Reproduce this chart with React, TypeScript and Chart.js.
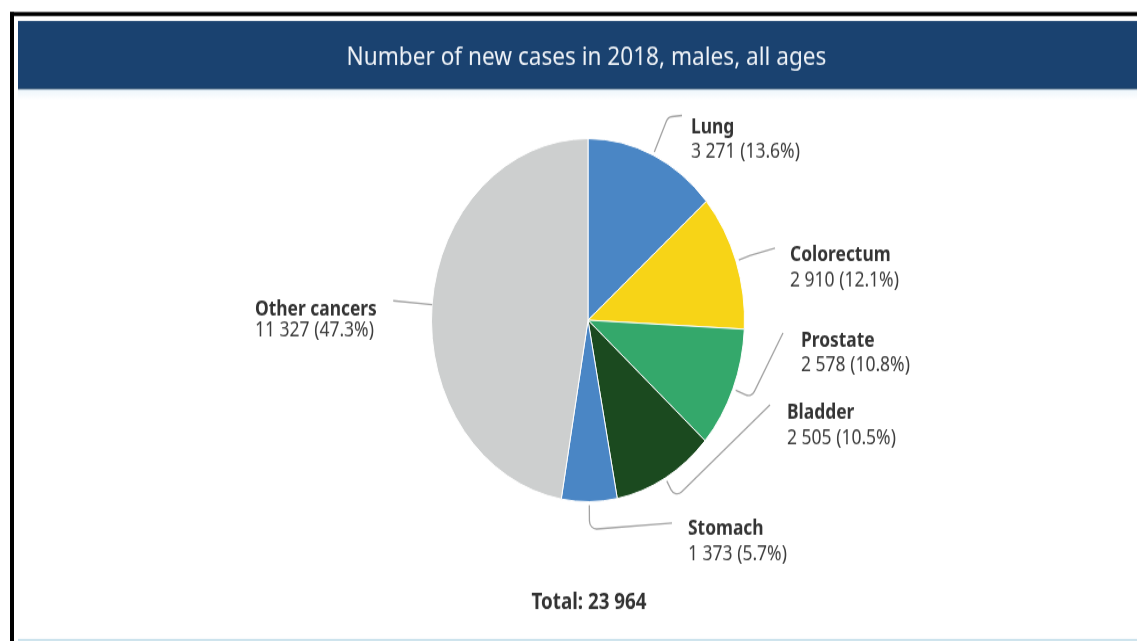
import { useEffect, useRef } from 'react';
import { Chart, registerables } from 'chart.js';

Chart.register(...registerables);

// ---------- data ----------
const chartTitle = 'Number of new cases in 2018, males, all ages';
const categories = ['Lung', 'Colorectum', 'Prostate', 'Bladder', 'Stomach', 'Other cancers'];
const newCases = [3271, 2910, 2578, 2505, 1373, 11327];
const sliceColors = ['#4a86c5', '#f7d417', '#34a86b', '#1b4a1f', '#4a86c5', '#cdcfcf'];
const totalPrefix = 'Total: ';

// ---------- layout (unscaled canvas coordinates) ----------
const W = 1137;
const SY = 1.16; // the reference is stretched vertically
const H = Math.round(641 / SY);

type LabelLayout = { startGap: number; knee: number; end: [number, number] | null; x: number; b1: number; b2: number };
const labelLayout: LabelLayout[] = [
  { startGap: 3, knee: 36, end: [682, 99.5], x: 691, b1: 114.7, b2: 136.2 },
  { startGap: 3, knee: 14, end: [775, 213.8], x: 790, b1: 225, b2: 246.6 },
  { startGap: 3, knee: 20, end: [783, 287], x: 801, b1: 298.9, b2: 319.8 },
  { startGap: 3, knee: 20, end: [770, 349.1], x: 787, b1: 360.6, b2: 382.8 },
  { startGap: 3, knee: 24, end: [672, 450.9], x: 688, b1: 461.2, b2: 482.8 },
  { startGap: 0, knee: 39, end: null, x: 255, b1: 271.6, b2: 290.3 },
];

const fmt = (n: number) => String(n).replace(/\B(?=(\d{3})+(?!\d))/g, ' ');

const framePlugin = {
  id: 'frame',
  beforeDraw(chart: any) {
    const ctx = chart.ctx as CanvasRenderingContext2D;
    ctx.save();
    ctx.fillStyle = '#ffffff';
    ctx.fillRect(0, 0, W, H);
    // black outer border (left and top)
    ctx.fillStyle = '#000000';
    ctx.fillRect(10, 12 / SY, 4, H);
    ctx.fillRect(10, 12 / SY, W, 4 / SY);
    // title bar
    ctx.fillStyle = '#1a4270';
    ctx.fillRect(18, 21 / SY, W, (89 - 21) / SY);
    ctx.fillStyle = '#2d4a66';
    ctx.fillRect(18, 88 / SY, W, 1 / SY);
    ctx.fillStyle = '#7f9fba';
    ctx.fillRect(18, 89 / SY, W, 1 / SY);
    const g = ctx.createLinearGradient(0, 90 / SY, 0, 100 / SY);
    g.addColorStop(0, '#eef6fb');
    g.addColorStop(1, '#ffffff');
    ctx.fillStyle = g;
    ctx.fillRect(18, 90 / SY, W, 10 / SY);
    // bottom light line
    ctx.fillStyle = '#bfdce8';
    ctx.fillRect(18, 639 / SY, W, 2 / SY);
    ctx.restore();
  },
  afterDraw(chart: any) {
    const ctx = chart.ctx as CanvasRenderingContext2D;
    ctx.save();
    // title
    ctx.fillStyle = '#eef2f7';
    ctx.font = '22.6px "Noto Sans"';
    ctx.textAlign = 'center';
    ctx.textBaseline = 'alphabetic';
    ctx.fillText(chartTitle, 586.5, 56);

    const meta = chart.getDatasetMeta(0);
    const values: number[] = chart.data.datasets[0].data;
    const total = values.reduce((a, b) => a + b, 0);

    meta.data.forEach((arc: any, i: number) => {
      const L = labelLayout[i];
      const mid = (arc.startAngle + arc.endAngle) / 2;
      const r = arc.outerRadius;
      const cx = arc.x, cy = arc.y;
      const sx = cx + Math.cos(mid) * (r + L.startGap);
      const sy = cy + Math.sin(mid) * (r + L.startGap);
      const kx = cx + Math.cos(mid) * (r + L.knee);
      const ky = cy + Math.sin(mid) * (r + L.knee);
      ctx.strokeStyle = '#a3a3a3';
      ctx.lineWidth = 1.3;
      ctx.beginPath();
      ctx.moveTo(sx, sy);
      if (L.end) {
        ctx.arcTo(kx, ky, L.end[0], L.end[1], 7);
        ctx.lineTo(L.end[0], L.end[1]);
      } else {
        ctx.lineTo(kx, ky);
      }
      ctx.stroke();

      ctx.textAlign = 'left';
      ctx.fillStyle = '#333333';
      ctx.font = 'bold 17.4px "Noto Sans"';
      ctx.fillText(chart.data.labels[i], L.x, L.b1);
      ctx.fillStyle = '#3d3d3d';
      ctx.font = '17.5px "Noto Sans"';
      const pct = ((values[i] / total) * 100).toFixed(1);
      ctx.fillText(`${fmt(values[i])} (${pct}%)`, L.x, L.b2);
    });

    ctx.textAlign = 'center';
    ctx.fillStyle = '#333333';
    ctx.font = 'bold 18.8px "Noto Sans"';
    ctx.fillText(totalPrefix + fmt(total), 589, 524.5);
    ctx.restore();
  },
};

export default function App() {
  const ref = useRef<HTMLCanvasElement | null>(null);
  useEffect(() => {
    if (!ref.current) return;
    const chart = new Chart(ref.current, {
      type: 'pie',
      data: {
        labels: categories,
        datasets: [
          {
            data: newCases,
            backgroundColor: sliceColors,
            borderColor: '#ffffff',
            borderWidth: 1,
          },
        ],
      },
      options: {
        responsive: false,
        animation: false,
        layout: { padding: { left: 431, right: W - 745, top: 119, bottom: H - 276 - 157 } },
        plugins: { legend: { display: false }, tooltip: { enabled: false }, title: { display: false } },
      },
      plugins: [framePlugin],
    });
    return () => chart.destroy();
  }, []);

  return (
    <div style={{ position: 'fixed', left: 0, top: 0, width: W, height: H, transform: `scaleY(${SY})`, transformOrigin: '0 0' }}>
      <canvas ref={ref} width={W} height={H} style={{ display: 'block', width: W, height: H }} />
    </div>
  );
}
